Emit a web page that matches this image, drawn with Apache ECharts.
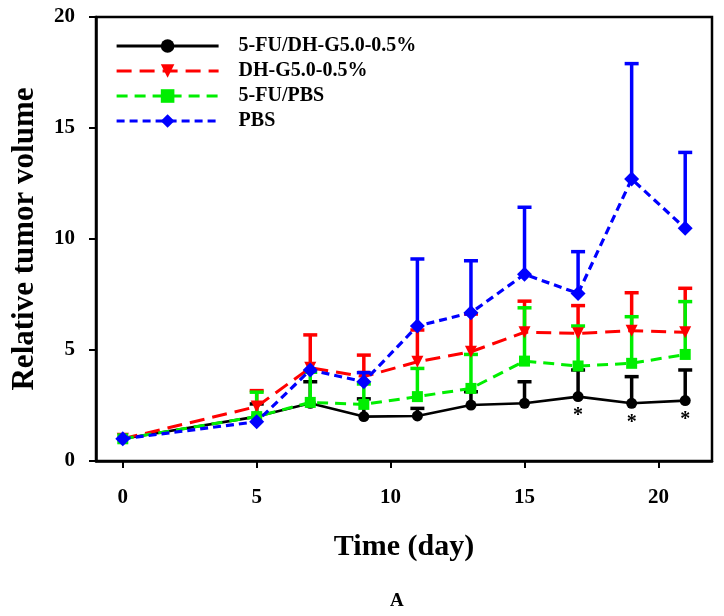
<!DOCTYPE html>
<html>
<head>
<meta charset="utf-8">
<script src="https://cdn.jsdelivr.net/npm/echarts@6/dist/echarts.min.js"></script>
<style>html,body{margin:0;padding:0;background:#fff}#c{width:724px;height:616px}</style>
</head>
<body>
<div id="c"></div>
<script>
const days = [0, 5, 7, 9, 11, 13, 15, 17, 19, 21];
const seriesNames = ['5-FU/DH-G5.0-0.5%', 'DH-G5.0-0.5%', '5-FU/PBS', 'PBS'];
const fuDh = [1.0, 2.0, 2.6, 2.0, 2.03, 2.52, 2.6, 2.9, 2.6, 2.72];
const fuDhErr = [0, 0.57, 0.97, 0.8, 0.34, 0.6, 0.97, 1.2, 1.2, 1.38];
const dh = [1.0, 2.45, 4.2, 3.8, 4.47, 4.92, 5.8, 5.75, 5.87, 5.8];
const dhErr = [0, 0.72, 1.48, 0.97, 1.43, 1.7, 1.4, 1.25, 1.71, 1.98];
const fuPbs = [1.0, 2.0, 2.64, 2.55, 2.9, 3.27, 4.5, 4.28, 4.4, 4.8];
const fuPbsErr = [0, 1.1, 1.36, 0.92, 1.27, 1.53, 2.4, 1.8, 2.1, 2.38];
const pbs = [1.0, 1.77, 4.1, 3.57, 6.08, 6.68, 8.41, 7.55, 12.7, 10.48];
const pbsErr = [0, 0, 0, 0.41, 3.02, 2.34, 3.02, 1.88, 5.2, 3.42];
const starDays = [17, 19, 21];
const xTicks = [0, 5, 10, 15, 20];

const colors = ['#000000', '#ff0000', '#00ee00', '#0000ff'];
const means = [fuDh, dh, fuPbs, pbs];
const errs = [fuDhErr, dhErr, fuPbsErr, pbsErr];
const symbols = ['circle', 'path://M0,0 L10,0 L5,10 Z', 'rect', 'diamond'];
const symSizes = [11, 12, 11, 15];
const dashes = ['solid', [15, 8], [11, 7], [8, 5]];
const widths = [2.6, 3, 3, 3.2];

function errSeries(i) {
  return {
    type: 'custom',
    name: seriesNames[i] + ' err',
    z: 2 + i,
    silent: true,
    data: days.map((d, k) => [d, means[i][k], means[i][k] + errs[i][k]]).filter(r => r[2] > r[1]),
    renderItem: function (params, api) {
      const p0 = api.coord([api.value(0), api.value(1)]);
      const p1 = api.coord([api.value(0), api.value(2)]);
      const hw = 7;
      return {
        type: 'group',
        children: [
          { type: 'line', shape: { x1: p0[0], y1: p0[1], x2: p1[0], y2: p1[1] }, style: { stroke: colors[i], lineWidth: 3.5 } },
          { type: 'line', shape: { x1: p1[0] - hw, y1: p1[1], x2: p1[0] + hw, y2: p1[1] }, style: { stroke: colors[i], lineWidth: 3.5 } }
        ]
      };
    }
  };
}

function lineSeries(i) {
  return {
    type: 'line',
    name: seriesNames[i],
    z: 3 + i,
    symbol: symbols[i],
    symbolSize: symSizes[i],
    symbolKeepAspect: true,
    showAllSymbol: true,
    itemStyle: { color: colors[i] },
    lineStyle: { color: colors[i], width: widths[i], type: dashes[i] },
    data: days.map((d, k) => {
      const item = { value: [d, means[i][k]] };
      if (i === 0 && starDays.indexOf(d) >= 0) {
        item.label = { show: true, position: 'bottom', distance: 4, formatter: '*', color: '#000', fontSize: 20, fontWeight: 'bold', fontFamily: 'Liberation Serif' };
      }
      return item;
    }),
    animation: false
  };
}

const series = [];
for (let i = 0; i < 4; i++) { series.push(errSeries(i)); series.push(lineSeries(i)); }

const chart = echarts.init(document.getElementById('c'));
chart.setOption({
  animation: false,
  backgroundColor: '#fff',
  textStyle: { fontFamily: 'Liberation Serif' },
  grid: { left: 96, right: 12, top: 17, bottom: 155, show: true, borderColor: '#000', borderWidth: 2.5, backgroundColor: 'transparent' },
  legend: {
    data: seriesNames,
    orient: 'vertical',
    left: 110, top: 31,
    itemWidth: 102, itemHeight: 17, itemGap: 5,
    lineStyle: { width: 3.2 },
    textStyle: { fontFamily: 'Liberation Serif', fontWeight: 'bold', fontSize: 20, color: '#000', padding: [0, 0, 0, 15] }
  },
  title: {
    text: 'A', left: 385, top: 587,
    textStyle: { fontFamily: 'Liberation Serif', fontWeight: 'bold', fontSize: 19, color: '#000' }
  },
  xAxis: {
    type: 'value', min: -1, max: 22,
    splitLine: { show: false },
    axisLine: { onZero: false, lineStyle: { color: '#000', width: 2.5 } },
    axisTick: { customValues: xTicks, length: 7, lineStyle: { color: '#000', width: 2 } },
    axisLabel: { customValues: xTicks, margin: 26, color: '#000', fontWeight: 'bold', fontSize: 21, fontFamily: 'Liberation Serif' },
    name: 'Time (day)', nameLocation: 'middle', nameGap: 71,
    nameTextStyle: { color: '#000', fontWeight: 'bold', fontSize: 30, fontFamily: 'Liberation Serif' }
  },
  yAxis: {
    type: 'value', min: 0, max: 20, interval: 5,
    splitLine: { show: false },
    axisLine: { onZero: false, lineStyle: { color: '#000', width: 2.5 } },
    axisTick: { length: 7, lineStyle: { color: '#000', width: 2 } },
    axisLabel: { margin: 21, color: '#000', fontWeight: 'bold', fontSize: 21, fontFamily: 'Liberation Serif' },
    name: 'Relative tumor volume', nameLocation: 'middle', nameGap: 56,
    nameTextStyle: { color: '#000', fontWeight: 'bold', fontSize: 31, fontFamily: 'Liberation Serif' }
  },
  series: series
});
</script>
</body>
</html>
